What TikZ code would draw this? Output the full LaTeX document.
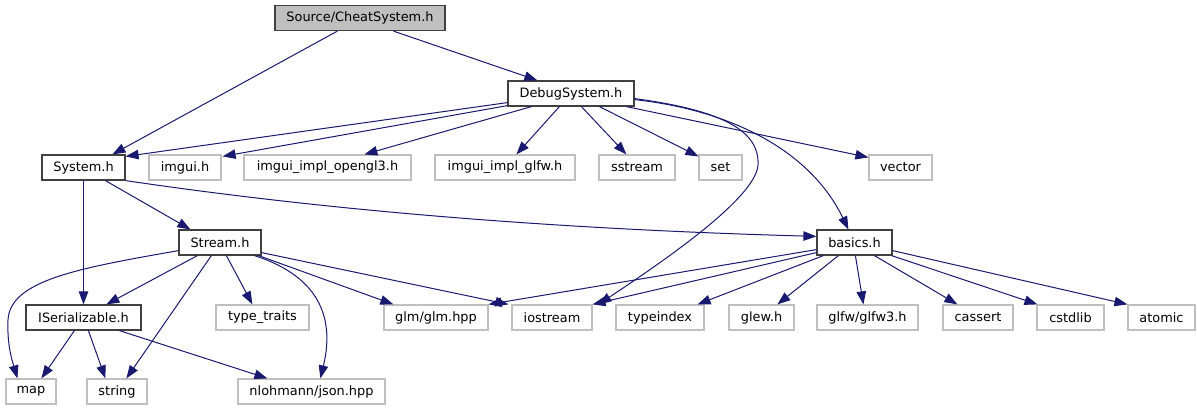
\documentclass[tikz,border=0pt]{standalone}
\usepackage{fontspec}
\setmainfont{DejaVu Sans}
\usetikzlibrary{arrows.meta}
\definecolor{edgeblue}{HTML}{191970}
\definecolor{nodegray}{HTML}{BFBFBF}
\definecolor{hdrgray}{HTML}{404040}
\begin{document}
\begin{tikzpicture}[x=1pt,y=-1pt,
  every node/.style={font=\fontsize{12.9}{15}\selectfont, inner sep=0pt, anchor=center},
  hdr/.style={draw=hdrgray, line width=1.2pt, minimum height=25pt},
  ext/.style={draw=nodegray, line width=1.2pt, minimum height=25pt},
  dep/.style={draw=edgeblue, line width=1pt, -{Triangle[length=13pt,width=9.5pt]}}]
\useasboundingbox[fill=white] (0,0) rectangle (1197,411);
% row 0
\node[hdr, fill=nodegray, minimum width=170pt] (cheat) at (360,18) {Source/CheatSystem.h};
% row 1
\node[hdr, minimum width=126pt] (debug) at (571,93.5) {DebugSystem.h};
% row 2
\node[hdr, minimum width=83pt] (system) at (83.5,167.5) {System.h};
\node[ext, minimum width=72pt] (imgui) at (185,167.5) {imgui.h};
\node[ext, minimum width=167pt] (opengl) at (327.5,167.5) {imgui\_impl\_opengl3.h};
\node[ext, minimum width=140pt] (glfw) at (505,167.5) {imgui\_impl\_glfw.h};
\node[ext, minimum width=76pt] (sstream) at (637,167.5) {sstream};
\node[ext, minimum width=43pt] (set) at (720.5,167.5) {set};
\node[ext, minimum width=63pt] (vector) at (900.5,167.5) {vector};
% row 3
\node[hdr, minimum width=82pt] (stream) at (220,242.5) {Stream.h};
\node[hdr, minimum width=75pt] (basics) at (854.5,242.5) {basics.h};
% row 4
\node[hdr, minimum width=115pt] (iser) at (83.5,317.5) {ISerializable.h};
\node[ext, minimum width=93pt] (ttraits) at (262.5,317.5) {type\_traits};
\node[ext, minimum width=104pt] (glm) at (436,317.5) {glm/glm.hpp};
\node[ext, minimum width=80pt] (iostream) at (552,317.5) {iostream};
\node[ext, minimum width=88pt] (typeindex) at (660,317.5) {typeindex};
\node[ext, minimum width=65pt] (glew) at (761.5,317.5) {glew.h};
\node[ext, minimum width=101pt] (glfwthree) at (867.5,317.5) {glfw/glfw3.h};
\node[ext, minimum width=70pt] (cassert) at (978,317.5) {cassert};
\node[ext, minimum width=67pt] (cstdlib) at (1070.5,317.5) {cstdlib};
\node[ext, minimum width=67pt] (atomic) at (1161.5,317.5) {atomic};
% row 5
\node[ext, minimum width=50pt] (map) at (31,391.5) {map};
\node[ext, minimum width=60pt] (string) at (117,391.5) {string};
\node[ext, minimum width=147pt] (json) at (311.5,391.5) {nlohmann/json.hpp};
% edges from CheatSystem
\draw[dep] ([xshift=63pt]cheat.south west) -- ([xshift=71pt]system.north west);
\draw[dep] ([xshift=119pt]cheat.south west) -- ([xshift=30pt]debug.north west);
% edges from DebugSystem
\draw[dep] ([yshift=4pt]debug.south west) -- ([yshift=-2pt]system.north east);
\draw[dep] ([yshift=1pt]debug.south west) -- ([xshift=1pt,yshift=-2pt]imgui.north east);
\draw[dep] ([xshift=24pt]debug.south west) -- ([xshift=121pt]opengl.north west);
\draw[dep] ([xshift=52pt]debug.south west) -- ([xshift=82pt]glfw.north west);
\draw[dep] ([xshift=74pt]debug.south west) -- ([xshift=28pt]sstream.north west);
\draw[dep] ([xshift=92pt]debug.south west) -- ([yshift=-2pt]set.north west);
\draw[dep] ([xshift=119pt]debug.south west) -- ([yshift=-3pt]vector.north west);
\draw[dep] ([yshift=8pt]debug.south east) .. controls (720,110) and (760,130) .. (758,165)
  .. controls (756,200) and (650,270) .. ([xshift=6pt]iostream.north east);
\draw[dep] ([yshift=7pt]debug.south east) .. controls (730,110) and (810,150) .. ([xshift=32pt]basics.north west);
% edges from System
\draw[dep] (system.south) -- (iser.north);
\draw[dep] ([xshift=64pt]system.south west) -- ([xshift=12pt]stream.north west);
\draw[dep] (system.south east) .. controls (355,214.5) and (587,230) .. ([yshift=-7pt]basics.north west);
% edges from Stream
\draw[dep] ([yshift=5pt]stream.south west) .. controls (80,268) and (10,280) .. (8,320)
  .. controls (7,345) and (12,360) .. ([xshift=12pt]map.north west);
\draw[dep] ([xshift=19pt]stream.south west) -- ([xshift=81pt]iser.north west);
\draw[dep] ([xshift=33pt]stream.south west) -- ([xshift=40pt]string.north west);
\draw[dep] ([xshift=48pt]stream.south west) -- ([xshift=37pt]ttraits.north west);
\draw[dep] ([xshift=-7pt]stream.south east) .. controls (330,280) and (332,330) .. ([xshift=83pt]json.north west);
\draw[dep] ([xshift=-3pt]stream.south east) -- ([xshift=10pt]glm.north west);
\draw[dep] ([yshift=3pt]stream.south east) -- ([xshift=-3pt]iostream.north west);
% edges from ISerializable
\draw[dep] ([xshift=49pt]iser.south west) -- ([xshift=36pt]map.north west);
\draw[dep] ([xshift=63pt]iser.south west) -- ([xshift=19pt]string.north west);
\draw[dep] ([xshift=94pt]iser.south west) -- ([xshift=30pt]json.north west);
% edges from basics
\draw[dep] ([yshift=6pt]basics.south west) -- (glm.north east);
\draw[dep] ([yshift=3pt]basics.south west) -- (iostream.north east);
\draw[dep] ([xshift=7pt]basics.south west) -- ([xshift=-7pt]typeindex.north east);
\draw[dep] ([xshift=22pt]basics.south west) -- ([xshift=49pt]glew.north west);
\draw[dep] ([xshift=39pt]basics.south west) -- ([xshift=47pt]glfwthree.north west);
\draw[dep] ([xshift=58pt]basics.south west) -- ([xshift=15pt]cassert.north west);
\draw[dep] ([xshift=-1pt]basics.south east) -- ([xshift=1pt]cstdlib.north west);
\draw[dep] ([yshift=5pt]basics.south east) -- (atomic.north west);
\end{tikzpicture}
\end{document}
